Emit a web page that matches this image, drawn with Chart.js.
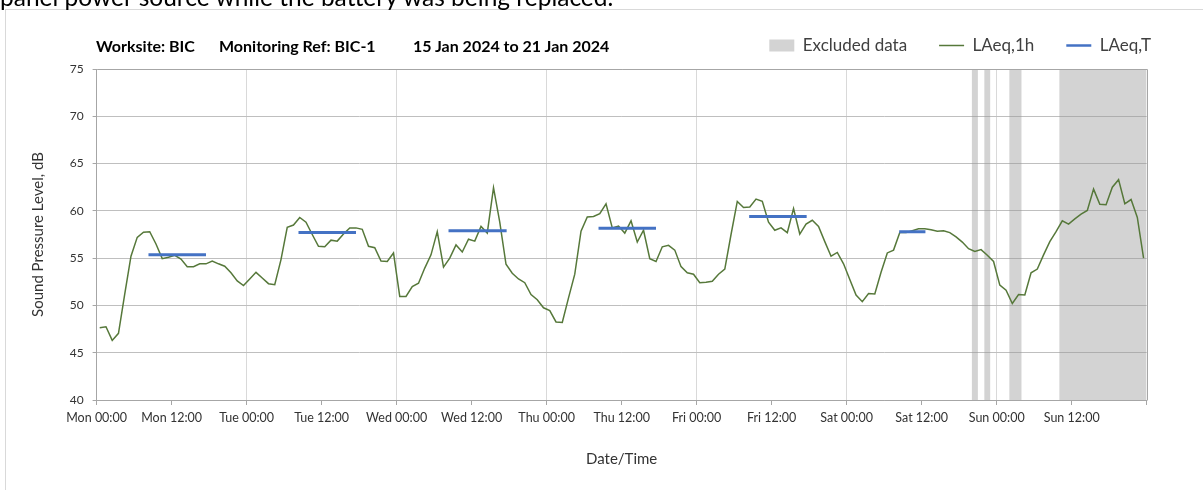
<!DOCTYPE html>
<html>
<head>
<meta charset="utf-8">
<script src="https://cdn.jsdelivr.net/npm/chart.js@4.4.1/dist/chart.umd.min.js"></script>
<style>
  html, body { margin: 0; padding: 0; background: #ffffff; overflow: hidden; }
  #wrap { position: relative; width: 1203px; height: 490px; }
  #c { position: absolute; left: 0; top: 0; }
  .ov { position: absolute; pointer-events: none; white-space: pre; font-family: Lato, "Open Sans", sans-serif; }
  #frame { left: 5px; top: 9px; width: 1300px; height: 600px; border-left: 1px solid #d9d9d9; border-top: 1px solid #d9d9d9; }
  #note { left: 0px; top: -18px; font-size: 24.5px; line-height: 29.4px; color: #000; }
  .tt { top: 36px; font-size: 16px; line-height: 19px; font-weight: bold; color: #000; }
</style>
</head>
<body>
<div id="wrap">
  <canvas id="c" width="1203" height="490"></canvas>
  <div class="ov" id="frame"></div>
  <div class="ov" id="note">panel power source while the battery was being replaced.</div>
  <div class="ov tt" style="left:96px">Worksite: BIC</div>
  <div class="ov tt" style="left:219px">Monitoring Ref: BIC-1</div>
  <div class="ov tt" style="left:413px">15 Jan 2024 to 21 Jan 2024</div>
</div>
<script>
// ---------------- DATA ----------------
// Hourly LAeq,1h values, Mon 00:00 .. Sun 23:00 (15-21 Jan 2024)
const laeq1h = [
  47.65, 47.75, 46.3, 47.05, 51.2, 55.2, 57.2, 57.75, 57.8, 56.5, 54.95, 55.1, 55.3, 54.9, 54.1, 54.1, 54.4, 54.4, 54.7, 54.4, 54.15, 53.45, 52.6, 52.1,
  52.8, 53.5, 52.9, 52.3, 52.2, 54.85, 58.25, 58.5, 59.3, 58.8, 57.5, 56.25, 56.2, 56.9, 56.8, 57.55, 58.2, 58.2, 58.05, 56.25, 56.1, 54.7, 54.65, 55.55,
  50.95, 50.95, 52.0, 52.35, 53.95, 55.35, 57.8, 54.05, 55.0, 56.4, 55.65, 57.0, 56.8, 58.35, 57.65, 62.45, 58.8, 54.35, 53.4, 52.8, 52.4, 51.15, 50.6, 49.75,
  49.45, 48.25, 48.2, 50.8, 53.3, 57.85, 59.35, 59.4, 59.7, 60.75, 58.2, 58.4, 57.65, 58.95, 56.7, 57.95, 54.95, 54.65, 56.2, 56.35, 55.85, 54.1, 53.45, 53.3,
  52.4, 52.45, 52.55, 53.3, 53.85, 57.5, 61.0, 60.35, 60.4, 61.25, 61.0, 58.8, 57.95, 58.2, 57.7, 60.25, 57.55, 58.6, 59.0, 58.35, 56.75, 55.2, 55.6, 54.4,
  52.75, 51.1, 50.4, 51.25, 51.2, 53.5, 55.55, 55.85, 57.7, 57.7, 57.9, 58.1, 58.1, 58.0, 57.85, 57.9, 57.7, 57.25, 56.7, 56.0, 55.7, 55.9, 55.3, 54.65,
  52.15, 51.6, 50.2, 51.15, 51.1, 53.45, 53.85, 55.35, 56.75, 57.8, 58.95, 58.6, 59.15, 59.65, 60.05, 62.3, 60.7, 60.65, 62.5, 63.3, 60.75, 61.2, 59.3, 55.0
];
const hourOffset = 0.5; // each hourly value is plotted at the middle of its hour

// LAeq,T daytime periods (hours from Mon 00:00)
const laeqTStart = [8.3, 32.3, 56.3, 80.3, 104.4, 128.4];
const laeqTEnd   = [17.5, 41.5, 65.6, 89.5, 113.6, 132.6];
const laeqTValue = [55.37, 57.7, 57.9, 58.15, 59.4, 57.8];

// Excluded data periods (hours from Mon 00:00)
const excludedStart = [140, 142, 146, 154];
const excludedEnd   = [141, 143, 148, 168];

// X tick labels every 12 hours
const xTickLabels = ['Mon 00:00','Mon 12:00','Tue 00:00','Tue 12:00','Wed 00:00','Wed 12:00','Thu 00:00',
                     'Thu 12:00','Fri 00:00','Fri 12:00','Sat 00:00','Sat 12:00','Sun 00:00','Sun 12:00',''];

// ---------------- BUILD ----------------
const GREEN = '#56783a';
const BLUE = '#4472c4';
const BAND = 'rgba(150,150,150,0.42)';
const BAND_SOLID = '#d3d3d3';
const YMIN = 40, YMAX = 75;

const lineData = laeq1h.map((v, i) => ({ x: i + hourOffset, y: v }));
const laeqTData = [];
laeqTStart.forEach((s, k) => {
  laeqTData.push({ x: s, y: laeqTValue[k] }, { x: laeqTEnd[k], y: laeqTValue[k] }, { x: laeqTEnd[k], y: null });
});
const bandData = [];
excludedStart.forEach((s, k) => {
  bandData.push({ x: s, y: YMAX }, { x: excludedEnd[k], y: YMAX }, { x: excludedEnd[k], y: null });
});

Chart.defaults.font.family = 'Lato, "Open Sans", sans-serif';
Chart.defaults.color = '#404040';

const frameLines = {
  id: 'frameLines',
  afterDatasetsDraw(chart) {
    const { ctx, chartArea: a } = chart;
    ctx.save();
    ctx.strokeStyle = '#a6a6a6';
    ctx.lineWidth = 1;
    ctx.beginPath();
    ctx.moveTo(Math.round(a.left) + 0.5, Math.round(a.top) + 0.5);
    ctx.lineTo(Math.round(a.right) + 0.5, Math.round(a.top) + 0.5);
    ctx.lineTo(Math.round(a.right) + 0.5, Math.round(a.bottom) + 0.5);
    ctx.stroke();
    ctx.restore();
  }
};

new Chart(document.getElementById('c'), {
  type: 'line',
  data: {
    datasets: [
      { label: 'Excluded data', data: bandData, borderWidth: 0, borderColor: 'rgba(0,0,0,0)',
        backgroundColor: BAND, fill: 'start', pointRadius: 0, spanGaps: false, order: 3 },
      { label: 'LAeq,1h', data: lineData, borderColor: GREEN, backgroundColor: GREEN, borderWidth: 1.5,
        fill: false, pointRadius: 0, tension: 0, order: 2 },
      { label: 'LAeq,T', data: laeqTData, borderColor: BLUE, backgroundColor: BLUE, borderWidth: 3,
        borderCapStyle: 'butt', fill: false, pointRadius: 0, spanGaps: false, order: 1 }
    ]
  },
  options: {
    responsive: false,
    animation: false,
    devicePixelRatio: 1,
    layout: { padding: { left: 5, right: 20, top: 5, bottom: 0 } },
    plugins: {
      tooltip: { enabled: false },
      title: { display: true, text: '', font: { size: 1, lineHeight: 1 }, padding: { top: 0, bottom: 4 } },
      legend: {
        display: true, position: 'top', align: 'end', weight: 3000,
        labels: {
          usePointStyle: true, pointStyleWidth: 25, boxHeight: 12, padding: 32,
          font: { size: 17 }, color: '#404040',
          generateLabels(chart) {
            const ds = chart.data.datasets;
            return [
              { text: ds[0].label, fillStyle: BAND_SOLID, strokeStyle: BAND_SOLID, lineWidth: 0, pointStyle: 'rect', datasetIndex: 0, hidden: false, fontColor: '#404040' },
              { text: ds[1].label, fillStyle: GREEN, strokeStyle: GREEN, lineWidth: 1.5, pointStyle: 'line', datasetIndex: 1, hidden: false, fontColor: '#404040' },
              { text: ds[2].label, fillStyle: BLUE, strokeStyle: BLUE, lineWidth: 2.5, pointStyle: 'line', datasetIndex: 2, hidden: false, fontColor: '#404040' }
            ];
          }
        }
      }
    },
    scales: {
      x: {
        type: 'linear', min: 0, max: 168,
        afterFit(s) { s.height = 90; },
        border: { display: true, color: '#a6a6a6' },
        grid: {
          drawOnChartArea: true, tickLength: 5, tickColor: '#a6a6a6',
          color(ctx) {
            const v = ctx.tick ? ctx.tick.value : -1;
            return (v % 24 === 0 && v > 0 && v < 168) ? '#d9d9d9' : 'rgba(0,0,0,0)';
          }
        },
        ticks: {
          stepSize: 12, autoSkip: false, maxRotation: 0, minRotation: 0, padding: 5,
          font: { size: 12.5 }, color: '#333333',
          callback(v) { const k = Math.round(v / 12); return xTickLabels[k] !== undefined ? xTickLabels[k] : ''; }
        },
        title: { display: true, text: 'Date/Time', font: { size: 15 }, color: '#333333', padding: { top: 0, bottom: 22 } }
      },
      y: {
        type: 'linear', min: YMIN, max: YMAX, position: 'left',
        afterFit(s) { s.width = 91.6; },
        border: { display: true, color: '#a6a6a6' },
        grid: { color: '#bfbfbf', tickLength: 4, tickColor: '#a6a6a6' },
        ticks: { stepSize: 5, padding: 9, font: { size: 12 }, color: '#333333' },
        title: { display: true, text: 'Sound Pressure Level, dB', font: { size: 15 }, color: '#333333', padding: { top: 24, bottom: 0 } }
      },
      y2: {
        type: 'linear', min: YMIN, max: YMAX, position: 'right', display: true,
        afterFit(s) { s.width = 36.3; },
        border: { display: false },
        grid: { display: false, drawTicks: false },
        ticks: { display: false }
      }
    }
  },
  plugins: [frameLines]
});
</script>
</body>
</html>
